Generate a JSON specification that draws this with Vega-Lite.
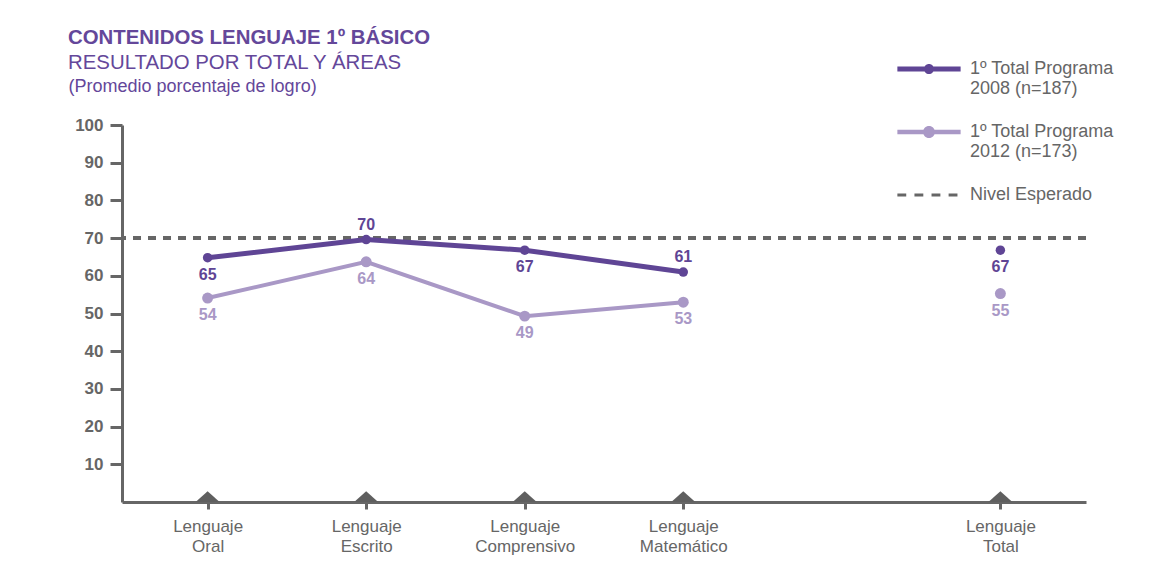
{
  "$schema": "https://vega.github.io/schema/vega-lite/v6.json",
  "width": 964,
  "height": 377,
  "autosize": {"type": "none"},
  "padding": {"left": 122, "top": 125, "right": 86, "bottom": 71},
  "background": "white",
  "title": {
    "text": "CONTENIDOS LENGUAJE 1º BÁSICO",
    "subtitle": "RESULTADO POR TOTAL Y ÁREAS",
    "anchor": "start",
    "frame": "group",
    "dx": -54,
    "dy": 24,
    "font": "Liberation Sans",
    "fontSize": 20.4,
    "fontWeight": "bold",
    "color": "#64479a",
    "subtitleFont": "Liberation Sans",
    "subtitleFontSize": 20.4,
    "subtitleColor": "#64479a",
    "subtitlePadding": 4
  },
  "data": {
    "values": [
      {"area": "Lenguaje Oral", "serie": "2008", "valor": 64.8},
      {"area": "Lenguaje Escrito", "serie": "2008", "valor": 69.6},
      {"area": "Lenguaje Comprensivo", "serie": "2008", "valor": 66.8},
      {"area": "Lenguaje Matemático", "serie": "2008", "valor": 61.0},
      {"area": "Lenguaje Total", "serie": "2008", "valor": 66.8},
      {"area": "Lenguaje Oral", "serie": "2012", "valor": 54.1},
      {"area": "Lenguaje Escrito", "serie": "2012", "valor": 63.7},
      {"area": "Lenguaje Comprensivo", "serie": "2012", "valor": 49.3},
      {"area": "Lenguaje Matemático", "serie": "2012", "valor": 53.0},
      {"area": "Lenguaje Total", "serie": "2012", "valor": 55.3}
    ]
  },
  "encoding": {
    "x": {
      "field": "area",
      "type": "nominal",
      "scale": {
        "type": "point",
        "domain": ["Lenguaje Oral", "Lenguaje Escrito", "Lenguaje Comprensivo", "Lenguaje Matemático", "_gap", "Lenguaje Total"],
        "padding": 0.54
      },
      "axis": {
        "title": null,
        "values": ["Lenguaje Oral", "Lenguaje Escrito", "Lenguaje Comprensivo", "Lenguaje Matemático", "Lenguaje Total"],
        "labelExpr": "split(datum.value, ' ')",
        "labelAngle": 0,
        "labelFont": "Liberation Sans",
        "labelFontSize": 17,
        "labelLineHeight": 20,
        "labelColor": "#666666",
        "labelPadding": 9,
        "labelBaseline": "top",
        "domainColor": "#666666",
        "domainWidth": 3,
        "tickColor": "#666666",
        "tickWidth": 3,
        "tickSize": 7,
        "grid": false
      }
    },
    "y": {
      "field": "valor",
      "type": "quantitative",
      "scale": {"domain": [0, 100], "nice": false},
      "axis": {
        "title": "(Promedio porcentaje de logro)",
        "titleAngle": 0,
        "titleAlign": "left",
        "titleBaseline": "alphabetic",
        "titleX": -54,
        "titleY": -34,
        "titleFont": "Liberation Sans",
        "titleFontSize": 18,
        "titleFontWeight": "normal",
        "titleColor": "#64479a",
        "values": [10, 20, 30, 40, 50, 60, 70, 80, 90, 100],
        "labelFont": "Liberation Sans",
        "labelFontSize": 17,
        "labelFontWeight": "bold",
        "labelColor": "#666666",
        "labelPadding": 7,
        "domainColor": "#666666",
        "domainWidth": 3,
        "tickColor": "#666666",
        "tickWidth": 3,
        "tickSize": 12,
        "grid": false
      }
    }
  },
  "layer": [
    {
      "mark": {"type": "rule", "stroke": "#666666", "strokeWidth": 3, "strokeDash": [8, 7]},
      "encoding": {"y": {"datum": 70, "type": "quantitative"}, "x": null}
    },
    {
      "transform": [{"filter": "datum.area != 'Lenguaje Total'"}],
      "mark": {"type": "line"},
      "encoding": {
        "color": {"field": "serie", "type": "nominal"},
        "strokeWidth": {"field": "serie", "type": "nominal", "scale": {"domain": ["2008", "2012"], "range": [5, 4]}, "legend": null}
      }
    },
    {
      "mark": {"type": "point", "filled": true, "opacity": 1, "shape": "circle"},
      "encoding": {
        "color": {"field": "serie", "type": "nominal"},
        "size": {"field": "serie", "type": "nominal", "scale": {"domain": ["2008", "2012"], "range": [90, 120]}, "legend": null}
      }
    },
    {
      "mark": {"type": "point", "filled": true, "opacity": 0, "size": 0},
      "encoding": {
        "color": {
          "field": "serie",
          "type": "nominal",
          "scale": {"domain": ["2008", "2012", "Nivel Esperado"], "range": ["#5f4595", "#a998c6", "#666666"]},
          "legend": {
            "orient": "none",
            "legendX": 791,
            "legendY": -72,
            "title": null,
            "symbolOpacity": 1,
            "symbolSize": 1000,
            "symbolStrokeWidth": 0,
            "labelExpr": "datum.label == '2008' ? ['1º Total Programa', '2008 (n=187)'] : datum.label == '2012' ? ['1º Total Programa', '2012 (n=173)'] : 'Nivel Esperado'",
            "labelFont": "Liberation Sans",
            "labelFontSize": 18,
            "labelLineHeight": 21,
            "labelColor": "#666666",
            "labelLimit": 300,
            "labelOffset": 25,
            "rowPadding": 18
          }
        },
        "shape": {
          "field": "serie",
          "type": "nominal",
          "scale": {
            "domain": ["2008", "2012", "Nivel Esperado"],
            "range": [
              "M-2,-0.16L2,-0.16L2,0.16L-2,0.16Z M0.32,0 A0.32,0.32 0 1 1 -0.32,0 A0.32,0.32 0 1 1 0.32,0 Z",
              "M-2,-0.14L2,-0.14L2,0.14L-2,0.14Z M0.38,0 A0.38,0.38 0 1 1 -0.38,0 A0.38,0.38 0 1 1 0.38,0 Z",
              "M-2,-0.1H-1.44V0.1H-2Z M-0.92,-0.1H-0.36V0.1H-0.92Z M0.16,-0.1H0.72V0.1H0.16Z M1.24,-0.1H1.8V0.1H1.24Z"
            ]
          }
        }
      }
    },
    {
      "transform": [{"filter": "!(datum.serie == '2008' && (datum.area == 'Lenguaje Escrito' || datum.area == 'Lenguaje Matemático'))"}],
      "mark": {"type": "text", "dy": 17, "font": "Liberation Sans", "fontSize": 16, "fontWeight": "bold", "baseline": "middle"},
      "encoding": {
        "text": {"field": "valor", "type": "quantitative", "format": ".0f"},
        "color": {"field": "serie", "type": "nominal"}
      }
    },
    {
      "transform": [{"filter": "datum.serie == '2008' && (datum.area == 'Lenguaje Escrito' || datum.area == 'Lenguaje Matemático')"}],
      "mark": {"type": "text", "dy": -15, "font": "Liberation Sans", "fontSize": 16, "fontWeight": "bold", "baseline": "middle"},
      "encoding": {
        "text": {"field": "valor", "type": "quantitative", "format": ".0f"},
        "color": {"field": "serie", "type": "nominal"}
      }
    },
    {
      "transform": [{"filter": "datum.serie == '2008'"}],
      "mark": {"type": "point", "filled": true, "opacity": 1, "fill": "#5f5f5f", "size": 576, "shape": "M-1,0L0,-0.9L1,0Z"},
      "encoding": {"y": {"datum": 0, "type": "quantitative"}}
    }
  ],
  "config": {
    "view": {"stroke": null}
  }
}
